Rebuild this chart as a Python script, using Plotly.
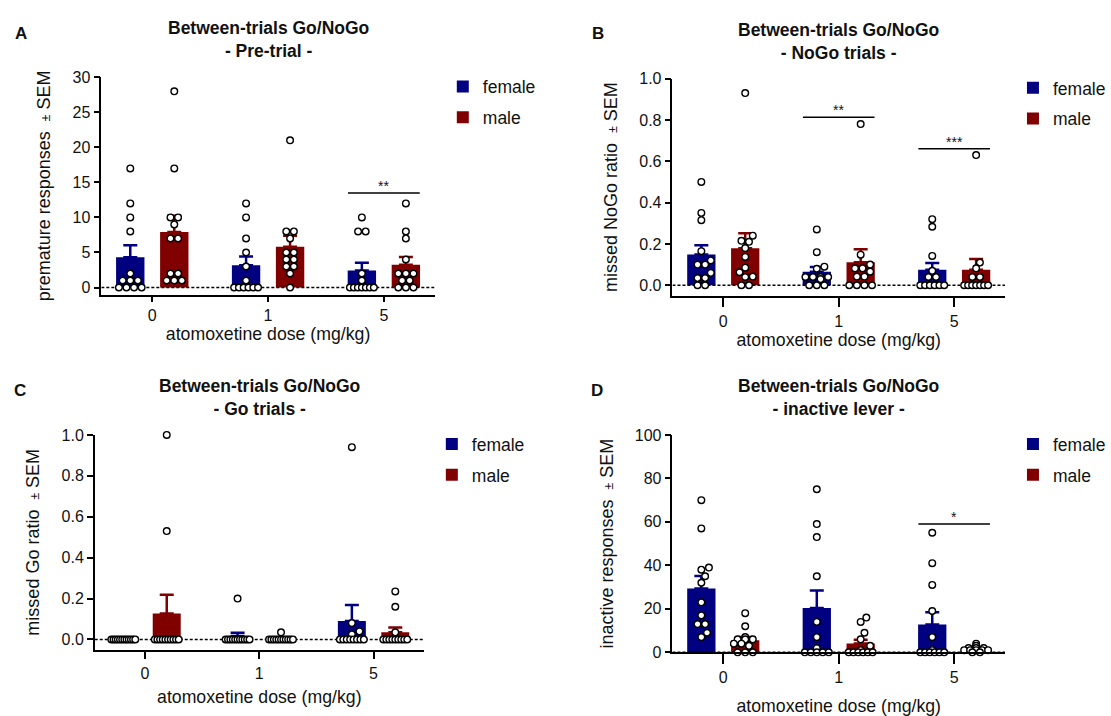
import itertools
import numpy as np
import plotly.graph_objects as go

# ---------------- data ----------------
doses = ["0", "1", "5"]
sexes = ["female", "male"]
sex_colors = ["#000080", "#800000"]

# Panel A: premature responses (pre-trial)
A_female = [[17, 12, 10, 8, 2, 1, 1, 1, 0, 0, 0, 0],
            [12, 10, 7, 5, 3, 1, 0, 0, 0, 0, 0, 0],
            [10, 8, 8, 2, 1, 0, 0, 0, 0, 0, 0, 0]]
A_male = [[28, 17, 10, 10, 9, 7, 7, 2, 2, 1, 1, 1],
          [21, 8, 8, 7, 5, 5, 4, 4, 3, 3, 2, 0],
          [12, 8, 7, 4, 2, 2, 2, 1, 1, 0, 0, 0]]

# Panel B: missed NoGo ratio
B_female = [[0.50, 0.35, 0.315, 0.165, 0.12, 0.10, 0.10, 0.06, 0.035, 0.035, 0.0, 0.0],
            [0.27, 0.16, 0.09, 0.08, 0.04, 0.04, 0.04, 0.04, 0.03, 0.0, 0.0, 0.0],
            [0.32, 0.283, 0.142, 0.07, 0.04, 0.04, 0.0, 0.0, 0.0, 0.0, 0.0, 0.0]]
B_male = [[0.93, 0.24, 0.215, 0.21, 0.18, 0.137, 0.085, 0.063, 0.042, 0.04, 0.0, 0.0],
          [0.78, 0.148, 0.10, 0.082, 0.082, 0.066, 0.042, 0.042, 0.0, 0.0, 0.0, 0.0],
          [0.63, 0.11, 0.082, 0.04, 0.04, 0.0, 0.0, 0.0, 0.0, 0.0, 0.0, 0.0]]

# Panel C: missed Go ratio
C_female = [[0.0, 0.0, 0.0, 0.0, 0.0, 0.0, 0.0, 0.0, 0.0, 0.0, 0.0, 0.0],
            [0.2, 0.0, 0.0, 0.0, 0.0, 0.0, 0.0, 0.0, 0.0, 0.0, 0.0, 0.0],
            [0.94, 0.08, 0.04, 0.025, 0.0, 0.0, 0.0, 0.0, 0.0, 0.0, 0.0, 0.0]]
C_male = [[1.0, 0.53, 0.0, 0.0, 0.0, 0.0, 0.0, 0.0, 0.0, 0.0, 0.0, 0.0],
          [0.035, 0.0, 0.0, 0.0, 0.0, 0.0, 0.0, 0.0, 0.0, 0.0, 0.0, 0.0],
          [0.235, 0.16, 0.035, 0.0, 0.0, 0.0, 0.0, 0.0, 0.0, 0.0, 0.0, 0.0]]

# Panel D: inactive lever responses
D_female = [[70, 57, 39, 38, 35, 32, 23, 17, 13, 13, 9, 7],
            [75, 59, 53, 35, 14, 7, 2, 0, 0, 0, 0, 0],
            [55, 41, 31, 19, 7, 1, 0, 0, 0, 0, 0, 0]]
D_male = [[18, 12, 7, 6, 6, 6, 4, 4, 3, 0, 0, 0],
          [16, 14, 9, 6, 3, 1, 0, 0, 0, 0, 0, 0],
          [4, 3, 2, 2, 2, 1, 1, 1, 1, 1, 0, 0]]

panel_letters = ["A", "B", "C", "D"]
panel_subtitles = ["- Pre-trial -", "- NoGo trials -", "- Go trials -", "- inactive lever -"]
main_title = "Between-trials Go/NoGo"
y_titles = ["premature responses", "missed NoGo ratio", "missed Go ratio", "inactive responses"]
x_title = "atomoxetine dose (mg/kg)"

# significance bars: (panel index, dose index, level, label)
sig_panel = [0, 1, 1, 3]
sig_dose = [2, 1, 2, 2]
sig_level = [13.5, 0.813, 0.66, 59]
sig_label = ["**", "**", "***", "*"]

# ---------------- layout constants ----------------
W, H = 1111, 716
FONT = "Liberation Sans, Arial, sans-serif"
INK = "#111111"

panels = [
    dict(data=(A_female, A_male), xpx=(101.6, 436.0), ypx=(71.0, 293.5), yr=[-1, 30], dtick=5,
         fmt="d", letter_px=(21, 26), xticklen=6, xstandoff=3),
    dict(data=(B_female, B_male), xpx=(674.3, 1007.7), ypx=(72.3, 294.6), yr=[-0.05, 1.0], dtick=0.2,
         fmt=".1f", letter_px=(600, 26), xticklen=10, xstandoff=5),
    dict(data=(C_female, C_male), xpx=(95.0, 425.0), ypx=(437.3, 657.3), yr=[-0.05, 1.0], dtick=0.2,
         fmt=".1f", letter_px=(20, 392), xticklen=8, xstandoff=10),
    dict(data=(D_female, D_male), xpx=(674.3, 1007.7), ypx=(437.3, 660.0), yr=[0, 100], dtick=20,
         fmt="d", letter_px=(599, 392), xticklen=10, xstandoff=15),
]
XR = [-0.44, 2.44]
BAR_OFF = [-0.19, 0.19]
BAR_W = 0.245
DIAM = 7.6        # px, point spacing
MAXHALF = 12.0    # px, max half-spread of a row of points


def swarm(vals, ypu, xpu):
    """Deterministic beeswarm offsets (in x data units) for one group."""
    n = len(vals)
    order = sorted(range(n), key=lambda i: vals[i])
    offs = [0.0] * n
    placed = []
    for v, grp in itertools.groupby(order, key=lambda i: vals[i]):
        idx = list(grp)
        k = len(idx)
        yp = v * ypu
        step = DIAM if k == 1 else min(DIAM, 2 * MAXHALF / (k - 1))
        base = [(j - (k - 1) / 2) * step for j in range(k)]
        shifts = [0.0]
        s = DIAM / 4
        while s <= MAXHALF + 1e-6:
            shifts += [s, -s]
            s += DIAM / 4
        best = base
        for sh in shifts:
            cand = [b + sh for b in base]
            if sh != 0 and max(abs(c) for c in cand) > MAXHALF + 0.5:
                continue
            ok = all((cx - px) ** 2 + (yp - py) ** 2 >= (0.92 * DIAM) ** 2
                     for cx in cand for (px, py) in placed)
            if ok:
                best = cand
                break
        for i, cx in zip(idx, best):
            offs[i] = cx / xpu
            placed.append((cx, yp))
    return offs


fig = go.Figure()
annotations = []

for p, pan in enumerate(panels):
    sfx = "" if p == 0 else str(p + 1)
    xa, ya = "x" + sfx, "y" + sfx
    legname = "legend" + sfx
    x0, x1 = pan["xpx"]
    yt, yb = pan["ypx"]
    xdom = [x0 / W, x1 / W]
    ydom = [(H - yb) / H, (H - yt) / H]
    xpu = (x1 - x0) / (XR[1] - XR[0])
    ypu = (yb - yt) / (pan["yr"][1] - pan["yr"][0])

    # bars with one-sided SEM
    for s, sex in enumerate(sexes):
        groups = pan["data"][s]
        means = [float(np.mean(g)) for g in groups]
        sems = [float(np.std(g, ddof=1) / np.sqrt(len(g))) for g in groups]
        fig.add_trace(go.Bar(
            x=[i + BAR_OFF[s] for i in range(len(doses))], y=means, width=BAR_W,
            marker=dict(color=sex_colors[s], line=dict(width=0)),
            error_y=dict(type="data", array=sems, arrayminus=[0] * len(sems), symmetric=False,
                         color=sex_colors[s], thickness=2.5, width=7),
            name=sex, legend=legname, legendgroup=sex + sfx, showlegend=True,
            xaxis=xa, yaxis=ya, hoverinfo="skip"))

    # dotted zero line
    fig.add_trace(go.Scatter(x=XR, y=[0, 0], mode="lines",
                             line=dict(color="black", width=1.6, dash="3px,2px"),
                             showlegend=False, hoverinfo="skip", xaxis=xa, yaxis=ya,
                             cliponaxis=False))

    # significance lines
    for k in range(len(sig_panel)):
        if sig_panel[k] != p:
            continue
        c = sig_dose[k]
        fig.add_trace(go.Scatter(x=[c - 0.31, c + 0.31], y=[sig_level[k]] * 2, mode="lines",
                                 line=dict(color="black", width=1.5), showlegend=False,
                                 hoverinfo="skip", xaxis=xa, yaxis=ya))
        annotations.append(dict(x=c, y=sig_level[k], xref=xa, yref=ya, text=sig_label[k],
                                showarrow=False, yanchor="bottom", yshift=-3,
                                font=dict(family=FONT, size=14, color=INK)))

    # individual points
    for s, sex in enumerate(sexes):
        groups = pan["data"][s]
        xs, ys = [], []
        for i, g in enumerate(groups):
            offs = swarm(g, ypu, xpu)
            xs += [i + BAR_OFF[s] + o for o in offs]
            ys += list(g)
        fig.add_trace(go.Scatter(x=xs, y=ys, mode="markers",
                                 marker=dict(symbol="circle", size=6.6, color="white",
                                             line=dict(color="black", width=1.4)),
                                 showlegend=False, hoverinfo="skip", xaxis=xa, yaxis=ya,
                                 cliponaxis=False))

    axis_common = dict(showline=True, linecolor="black", linewidth=1.5, ticks="outside",
                       tickwidth=1.5, tickcolor="black", showgrid=False, zeroline=False,
                       tickfont=dict(family=FONT, size=16, color=INK))
    fig.layout["xaxis" + sfx] = dict(
        axis_common, domain=xdom, range=XR, tickvals=[0, 1, 2], ticktext=doses,
        ticklen=pan["xticklen"], anchor=ya,
        title=dict(text=x_title, standoff=pan["xstandoff"],
                   font=dict(family=FONT, size=17.7, color=INK)))
    fig.layout["yaxis" + sfx] = dict(
        axis_common, domain=ydom, range=pan["yr"], dtick=pan["dtick"], tick0=0, ticklen=6,
        tickformat=pan["fmt"], anchor=xa,
        title=dict(text=y_titles[p] + "  <span style='font-size:12px'>±</span> SEM", standoff=17,
                   font=dict(family=FONT, size=18, color=INK)))

    # legend per panel
    fig.layout[legname] = dict(x=(x1 + 8) / W, y=(H - yt + 9) / H, xanchor="left", yanchor="top",
                               bgcolor="rgba(0,0,0,0)", tracegroupgap=5,
                               font=dict(family=FONT, size=17.5, color=INK))

    # panel title and letter
    annotations.append(dict(x=(x0 + x1) / 2 / W, y=(H - yt) / H, xref="paper", yref="paper",
                            text="<b>" + main_title + "</b><br><b>" + panel_subtitles[p] + "</b>",
                            showarrow=False, xanchor="center", yanchor="bottom", yshift=14,
                            font=dict(family=FONT, size=17.5, color=INK)))
    lx, ly = pan["letter_px"]
    annotations.append(dict(x=lx / W, y=(H - ly) / H, xref="paper", yref="paper",
                            text="<b>" + panel_letters[p] + "</b>", showarrow=False,
                            xanchor="center", yanchor="middle",
                            font=dict(family=FONT, size=17, color=INK)))

fig.update_layout(width=W, height=H, margin=dict(l=0, r=0, t=0, b=0),
                  paper_bgcolor="white", plot_bgcolor="white", barmode="overlay",
                  annotations=annotations, font=dict(family=FONT, color=INK))

fig.write_html("out.html")
